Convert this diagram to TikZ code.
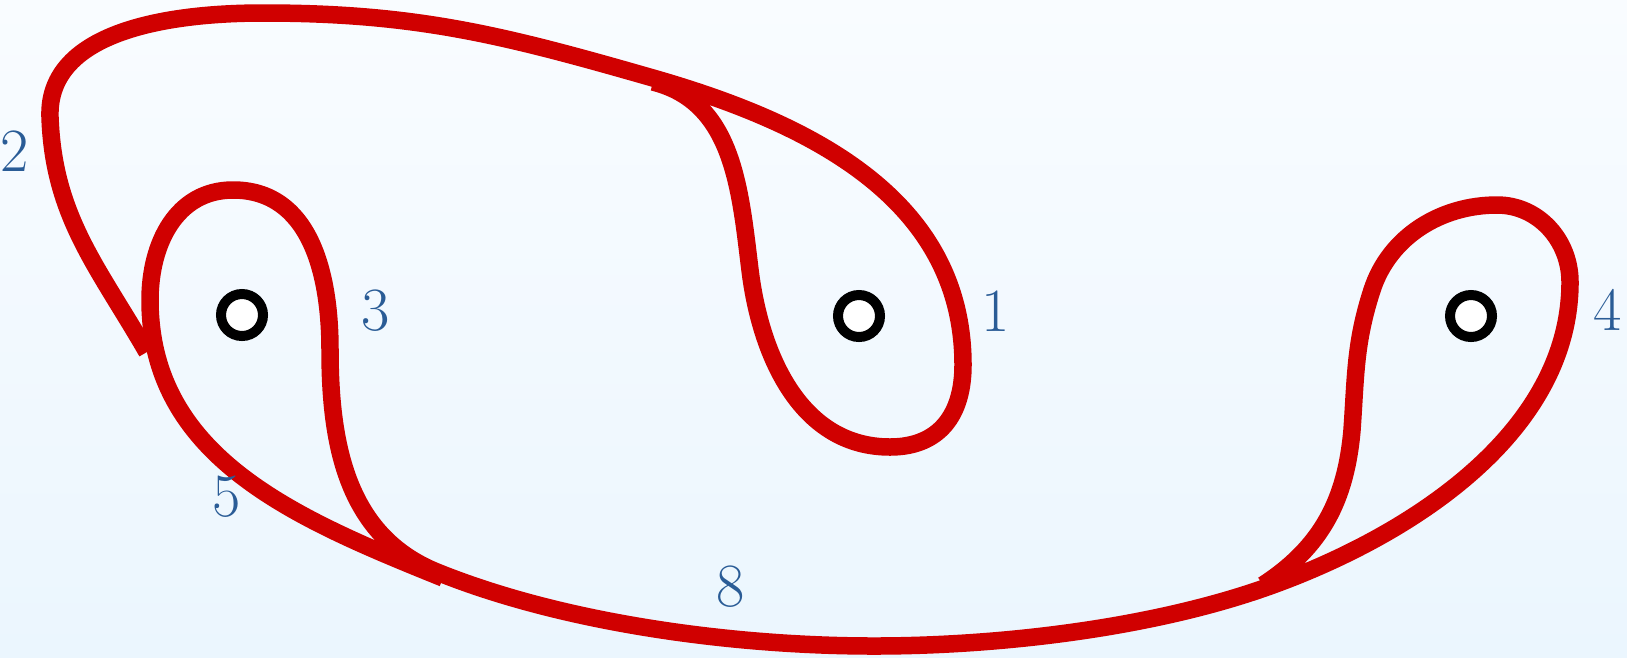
\documentclass[tikz,border=0pt]{standalone}
\definecolor{trackred}{RGB}{208,0,0}
\definecolor{labelblue}{RGB}{42,92,150}
\definecolor{bgtop}{RGB}{249,252,255}
\definecolor{bgbot}{RGB}{235,246,254}
\begin{document}
\begin{tikzpicture}[x=0.1mm,y=-0.1mm,
  track/.style={draw=trackred,line width=1.75mm,line join=round},
  puncture/.style={circle,draw=black,fill=white,line width=1mm,minimum size=4.2mm,inner sep=0pt},
  weight/.style={text=labelblue,font=\fontsize{17.5}{20}\selectfont,inner sep=0pt}]
\shade[top color=bgtop,bottom color=bgbot] (0,0) rectangle (1627,657);
\useasboundingbox (0,0) rectangle (1627,657);
% switches
\coordinate (B) at (147,352);
\coordinate (A) at (653,82);
\coordinate (C) at (443,578);
\coordinate (D) at (1263,585);
% branch 2, top, loop 1
\draw[track] (B) to[out=120,in=272] (50,117)
  to[out=92,in=180,looseness=0.95] (263,13)
  to[out=0,in=164] (653,78)
  to[out=-16,in=90] (963,365)
  to[out=270,in=0,looseness=1.15] (890,447)
  to[out=180,in=277] (750,270)
  to[out=97,in=346] (A);
% loop 4, branch 8, loop 3, branch 5
\draw[track] (D) to[out=33,in=265] (1352,430)
  to[out=86,in=252] (1372,290)
  to[out=72,in=180,looseness=0.95] (1497,205)
  to[out=0,in=90] (1570,282)
  to[out=270,in=20,looseness=0.9] (1273,585)
  to[out=200,in=0,looseness=0.8] (874,646)
  to[out=180,in=338,looseness=0.8] (437,572)
  to[out=158,in=270] (330,350)
  to[out=90,in=0,looseness=1.05] (233,190)
  to[out=180,in=90,looseness=1.05] (150,300)
  to[out=270,in=158] (C);
% punctures
\node[puncture] (p3) at (242,315) {};
\node[puncture] (p1) at (859,316) {};
\node[puncture] (p4) at (1471,316) {};
% weights
\node[weight] (w2) at (15,151) {2};
\node[weight] (w3) at (376,311) {3};
\node[weight] (w1) at (996,311) {1};
\node[weight] (w4) at (1608,310) {4};
\node[weight] (w5) at (227,497) {5};
\node[weight] (w8) at (731,587) {8};
\end{tikzpicture}
\end{document}
